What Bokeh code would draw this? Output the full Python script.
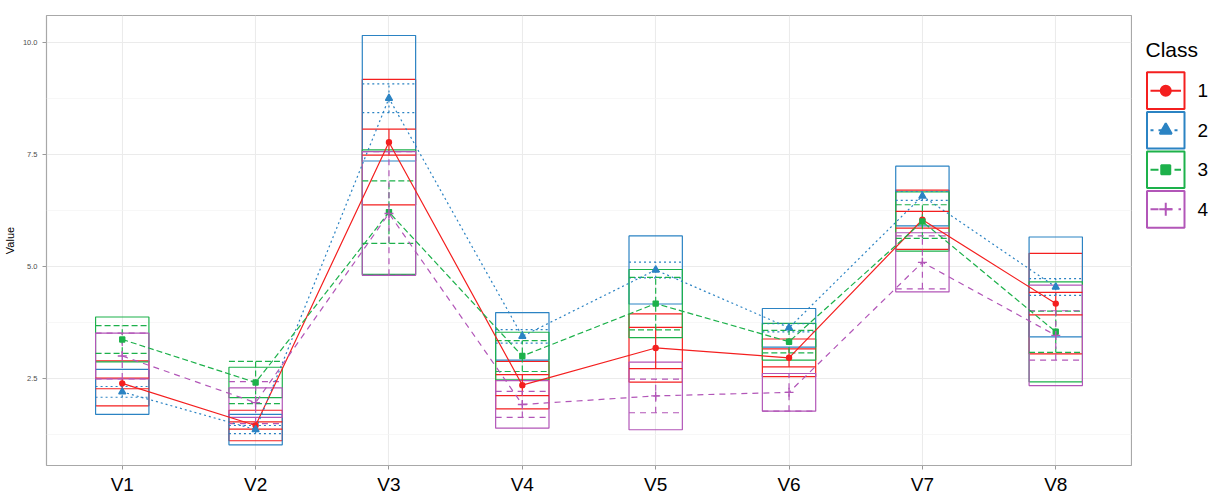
import numpy as np
from bokeh.plotting import figure
from bokeh.layouts import row
from bokeh.models import Range1d, FixedTicker, NumeralTickFormatter
from bokeh.core.properties import value
from bokeh.embed import file_html
from bokeh.resources import INLINE

# ---------------- data ----------------
variables = ["V1", "V2", "V3", "V4", "V5", "V6", "V7", "V8"]
class_labels = ["1", "2", "3", "4"]
legend_title = "Class"

mean_class1 = [2.39, 1.45, 7.77, 2.35, 3.18, 2.96, 6.04, 4.17]
mean_class2 = [2.20, 1.36, 8.75, 3.44, 4.92, 3.63, 6.57, 4.54]
mean_class3 = [3.37, 2.41, 6.21, 3.00, 4.17, 3.32, 6.00, 3.54]
mean_class4 = [3.00, 1.96, 6.18, 1.92, 2.11, 2.19, 5.09, 3.46]

sd_class1 = [0.50, 0.34, 1.40, 0.53, 0.76, 0.42, 0.66, 1.12]
sd_class2 = [0.50, 0.34, 1.40, 0.53, 0.76, 0.43, 0.665, 1.115]
sd_class3 = [0.50, 0.34, 1.39, 0.53, 0.76, 0.41, 0.66, 1.115]
sd_class4 = [0.51, 0.33, 1.38, 0.53, 0.755, 0.42, 0.66, 1.12]

ci_class1 = [0.12, 0.08, 0.29, 0.235, 0.46, 0.20, 0.185, 0.25]
ci_class2 = [0.12, 0.09, 0.32, 0.15, 0.175, 0.09, 0.10, 0.185]
ci_class3 = [0.31, 0.47, 0.695, 0.345, 0.585, 0.25, 0.375, 0.46]
ci_class4 = [0.51, 0.47, 1.38, 0.29, 0.375, 0.42, 0.59, 0.55]

y_ticks = [2.5, 5.0, 7.5, 10.0]
y_minor_ticks = [1.25, 3.75, 6.25, 8.75]

means = [mean_class1, mean_class2, mean_class3, mean_class4]
sds = [sd_class1, sd_class2, sd_class3, sd_class4]
cis = [ci_class1, ci_class2, ci_class3, ci_class4]

# ---------------- styles ----------------
colors = ["#F41F1F", "#2B83C3", "#1DB14B", "#B256B8"]
dashes = ["solid", "2 3", "6 3", "6 5"]
legend_dashes = ["solid", "3 5", "8 4", "8 6"]
markers = ["circle", "triangle", "square", "cross"]
marker_sizes = [5, 7, 5, 9]
legend_marker_sizes = [10, 12, 9, 13]
box_w = 0.4
LW = 1.2
FONT = "Liberation Sans"
BORDER_TOP, BORDER_BOTTOM = 15, 27
PAGE_H = 497

xs = np.arange(1, len(variables) + 1, dtype=float)

p = figure(width=1132, height=PAGE_H,
           x_range=Range1d(0.432, 8.568), y_range=Range1d(0.558, 10.596),
           output_backend="svg", toolbar_location=None,
           min_border_left=46, min_border_right=1,
           min_border_top=BORDER_TOP, min_border_bottom=BORDER_BOTTOM)
p.background_fill_color = "white"
p.border_fill_color = "white"
p.outline_line_color = "#A8A8A8"
p.outline_line_width = 1.2

# grid
p.xaxis.ticker = FixedTicker(ticks=list(xs))
p.xgrid.ticker = FixedTicker(ticks=list(xs))
p.yaxis.ticker = FixedTicker(ticks=y_ticks, minor_ticks=y_minor_ticks)
p.ygrid.ticker = FixedTicker(ticks=y_ticks, minor_ticks=y_minor_ticks)
p.xgrid.grid_line_color = "#EBEBEB"
p.xgrid.grid_line_width = 1.1
p.ygrid.grid_line_color = "#EBEBEB"
p.ygrid.grid_line_width = 1.1
p.ygrid.minor_grid_line_color = "#F3F3F3"
p.ygrid.minor_grid_line_width = 0.7

# axes
p.xaxis.major_label_overrides = {int(x): v for x, v in zip(xs, variables)}
p.xaxis.major_label_text_font = FONT
p.xaxis.major_label_text_font_size = "19px"
p.xaxis.major_label_text_color = "black"
p.xaxis.major_label_standoff = 4
p.xaxis.major_tick_out = 4
p.xaxis.major_tick_in = 0
p.xaxis.major_tick_line_color = "#9A9A9A"
p.xaxis.minor_tick_line_color = None
p.xaxis.axis_line_color = None

p.yaxis.formatter = NumeralTickFormatter(format="0.0")
p.yaxis.axis_label = "Value"
p.yaxis.axis_label_text_font = FONT
p.yaxis.axis_label_text_font_size = "11px"
p.yaxis.axis_label_text_font_style = "normal"
p.yaxis.axis_label_text_color = "black"
p.yaxis.axis_label_standoff = 4
p.yaxis.major_label_text_font = FONT
p.yaxis.major_label_text_font_size = "7.5px"
p.yaxis.major_label_text_color = "#4D4D4D"
p.yaxis.major_label_standoff = 5
p.yaxis.major_tick_out = 4
p.yaxis.major_tick_in = 0
p.yaxis.major_tick_line_color = "#9A9A9A"
p.yaxis.minor_tick_line_color = None
p.yaxis.axis_line_color = None

# boxes (mean +/- sd)
for k in range(4):
    m = np.array(means[k]); s = np.array(sds[k])
    p.quad(left=xs - box_w / 2, right=xs + box_w / 2, bottom=m - s, top=m + s,
           fill_color=None, line_color=colors[k], line_width=LW)

# error bars (mean +/- ci)
for k in range(4):
    m = np.array(means[k]); c = np.array(cis[k])
    for yy in (m + c, m - c):
        p.segment(x0=xs - box_w / 2, x1=xs + box_w / 2, y0=yy, y1=yy,
                  line_color=colors[k], line_width=LW, line_dash=dashes[k])
    p.segment(x0=xs, x1=xs, y0=m - c, y1=m + c,
              line_color=colors[k], line_width=LW, line_dash=dashes[k])

# profile lines
for k in range(4):
    p.line(xs, means[k], line_color=colors[k], line_width=LW, line_dash=dashes[k])

# points
for k in range(4):
    p.scatter(xs, means[k], marker=markers[k], size=marker_sizes[k],
              fill_color=colors[k], line_color=colors[k], line_width=1.4)

# ---------------- legend panel (screen-pixel coordinates) ----------------
# frame spans the same vertical band as the main plot, so map page pixels 1:1
leg = figure(width=76, height=PAGE_H, x_range=Range1d(1132, 1208),
             y_range=Range1d(PAGE_H - BORDER_BOTTOM, BORDER_TOP),
             output_backend="svg", toolbar_location=None,
             x_axis_location=None, y_axis_location=None,
             min_border_left=0, min_border_right=0,
             min_border_top=BORDER_TOP, min_border_bottom=BORDER_BOTTOM)
leg.outline_line_color = None
leg.background_fill_color = "white"
leg.border_fill_color = "white"
leg.xgrid.visible = False
leg.ygrid.visible = False

key_left, key_right = 1146.5, 1184.0
key_top0, key_pitch, key_h = 72.5, 40.0, 37.0
key_cx = (key_left + key_right) / 2

leg.text(x=[1145], y=[49], text=[legend_title], text_font=value(FONT),
         text_font_size="21px", text_baseline="middle", text_align="left",
         text_color="black")
for k in range(4):
    top = key_top0 + key_pitch * k
    cy = top + key_h / 2
    leg.quad(left=[key_left], right=[key_right], top=[top], bottom=[top + key_h],
             fill_color=None, line_color=colors[k], line_width=2)
    leg.segment(x0=[key_left + 3.5], x1=[key_right - 3.5], y0=[cy], y1=[cy],
                line_color=colors[k], line_width=2, line_dash=legend_dashes[k])
    leg.scatter([key_cx], [cy], marker=markers[k], size=legend_marker_sizes[k],
                fill_color=colors[k], line_color=colors[k], line_width=2)
    leg.text(x=[1197], y=[cy], text=[class_labels[k]], text_font=value(FONT),
             text_font_size="19px", text_baseline="middle", text_align="left",
             text_color="black")

layout = row(p, leg, spacing=0)
open("out.html", "w").write(file_html(layout, INLINE))
